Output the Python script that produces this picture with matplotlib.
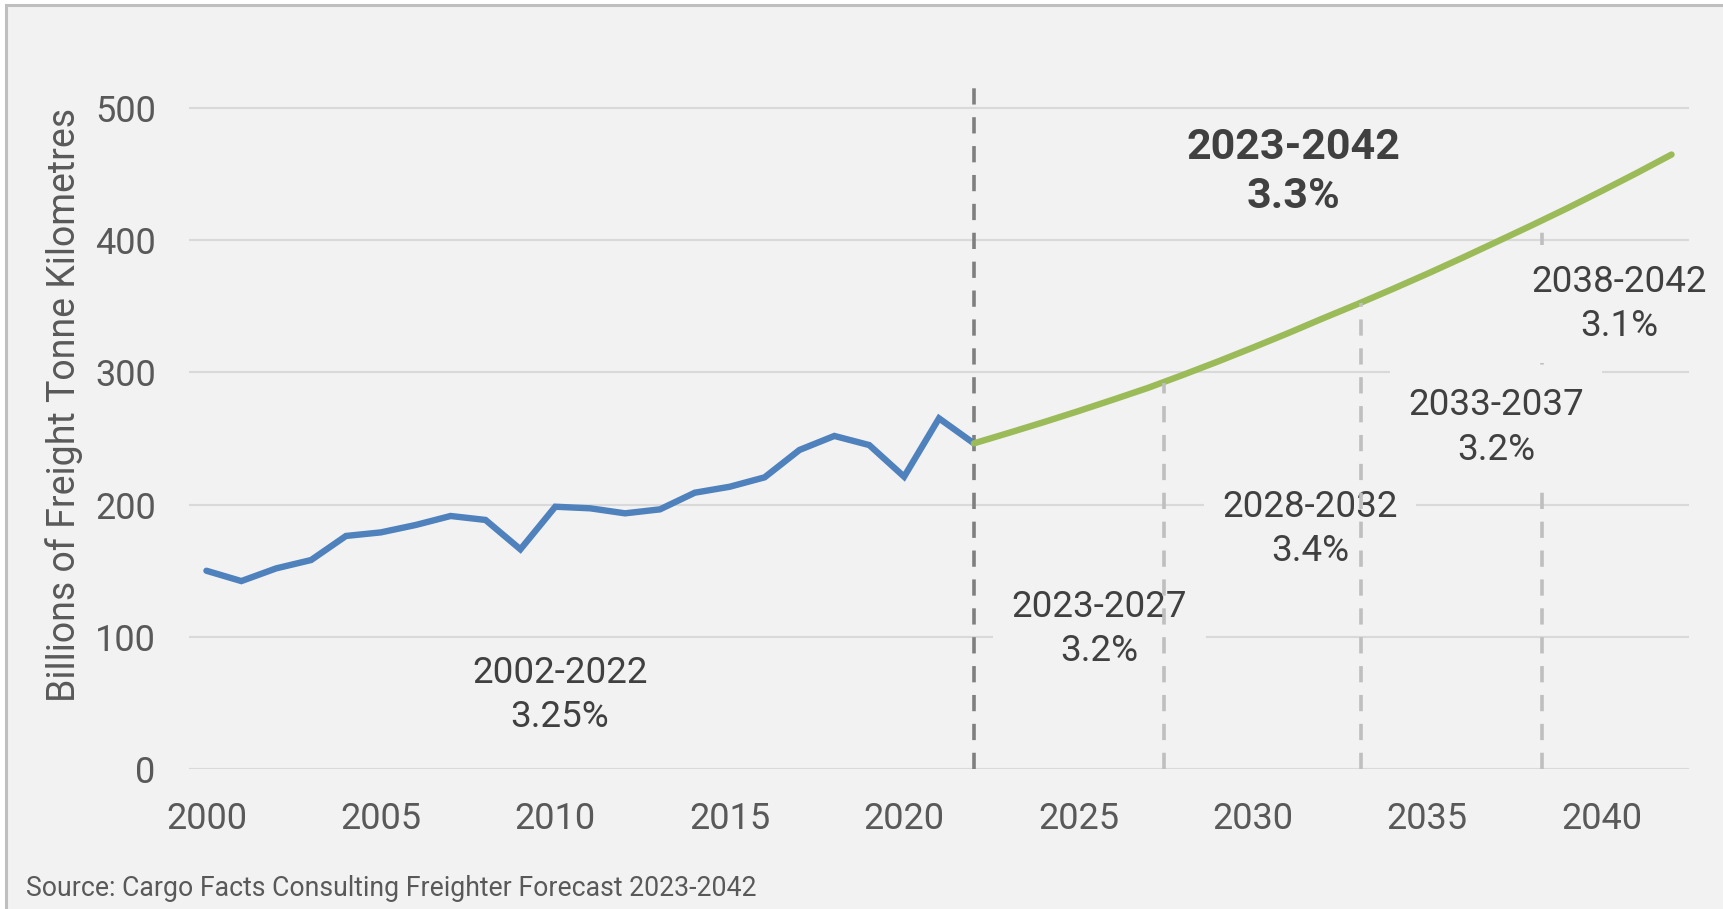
import matplotlib
matplotlib.use("Agg")
import matplotlib.pyplot as plt
from matplotlib.patches import Rectangle

plt.rcParams['font.family'] = ['Roboto', 'DejaVu Sans']

# historic freight tonne km (billions)
hist_years = list(range(2000, 2023))
hist_values = [150.0, 142.2, 151.8, 158.1, 176.3, 179.0, 184.6, 191.4, 188.4, 166.2,
               198.4, 197.2, 193.4, 196.4, 209.0, 213.5, 220.6, 241.3, 251.9, 245.0,
               221.1, 265.2, 246.3]

# forecast
fc_years = list(range(2022, 2043))
fc_values = [246.3, 254.2, 262.3, 270.7, 279.4, 288.3, 298.1, 308.2, 318.7, 329.5,
             340.7, 351.6, 362.9, 374.5, 386.5, 398.8, 411.2, 423.9, 437.1, 450.6, 464.6]

# period separators (x, top value)
sep_x = [2027.44, 2033.09, 2038.29]
sep_top = [292.0, 352.5, 414.5]

period_labels = ["2023-2027\n3.2%", "2028-2032\n3.4%", "2033-2037\n3.2%", "2038-2042\n3.1%"]
period_x = [2025.6, 2031.64, 2036.97, 2040.5]
period_y = [106.0, 181.6, 258.3, 351.6]

y_ticks = [0, 100, 200, 300, 400, 500]
x_ticks = [2000, 2005, 2010, 2015, 2020, 2025, 2030, 2035, 2040]

bg = '#F2F2F2'
txt = '#404040'
tick_col = '#595959'

fig = plt.figure(figsize=(17.23, 9.09), dpi=100, facecolor='white')
W, H = 1723, 909
fig.add_artist(Rectangle((6 / W, -0.1), 1.2, 1 - 5 / H + 0.1, transform=fig.transFigure,
                         facecolor=bg, edgecolor='#BFBFBF', linewidth=2.2, zorder=0))

ax = fig.add_axes([189 / W, 1 - 769.2 / H, 1500 / W, (769.2 - 78.6) / H])
ax.patch.set_alpha(0)
ax.set_xlim(1999.5, 2042.5)
ax.set_ylim(0, 522)
for sp in ax.spines.values():
    sp.set_visible(False)
ax.set_yticks(y_ticks)
ax.set_xticks(x_ticks)
ax.tick_params(length=0, labelsize=26, colors=tick_col)
ax.tick_params(axis='y', pad=24)
ax.tick_params(axis='x', pad=23)
ax.grid(axis='y', color='#D9D9D9', linewidth=1.5)
ax.set_axisbelow(True)

ax.plot(hist_years, hist_values, color='#4F81BD', linewidth=4.6, zorder=3,
        solid_joinstyle='miter', solid_capstyle='round')
ax.plot(fc_years, fc_values, color='#9BBB59', linewidth=4.6, zorder=3,
        solid_capstyle='round')

# main separator at end of history
ax.plot([2022, 2022], [0, 522], color='#7F7F7F', linewidth=2.6,
        dashes=(4.5, 3.5), zorder=2.5, clip_on=False)
for i, (x, top) in enumerate(zip(sep_x, sep_top)):
    z = 2.5 if i == 2 else 6
    ax.plot([x, x], [0, top], color='#BFBFBF', linewidth=2.6, dashes=(4.5, 3.5), zorder=z)

box = dict(boxstyle='square,pad=0.5', facecolor=bg, edgecolor='none')
for lab, x, y in zip(period_labels, period_x, period_y):
    ax.text(x, y, lab, ha='center', va='center', fontsize=26.5, color=txt,
            linespacing=1.3, bbox=box, zorder=5)

ax.text(2010.13, 56.1, "2002-2022\n3.25%", ha='center', va='center', fontsize=26.5,
        color=txt, linespacing=1.3, zorder=5)
ax.text(2031.15, 451.4, "2023-2042\n3.3%", ha='center', va='center', fontsize=31,
        fontweight='bold', color=txt, linespacing=1.25, zorder=5)

fig.text(64 / W, 1 - 405 / H, "Billions of Freight Tonne Kilometres", rotation=90,
         ha='center', va='center', fontsize=27, color=tick_col)
fig.text(26 / W, 1 - 888 / H, "Source: Cargo Facts Consulting Freighter Forecast 2023-2042",
         ha='left', va='center', fontsize=19.2, color=tick_col)

fig.savefig('out.png', dpi=100, facecolor=fig.get_facecolor())
